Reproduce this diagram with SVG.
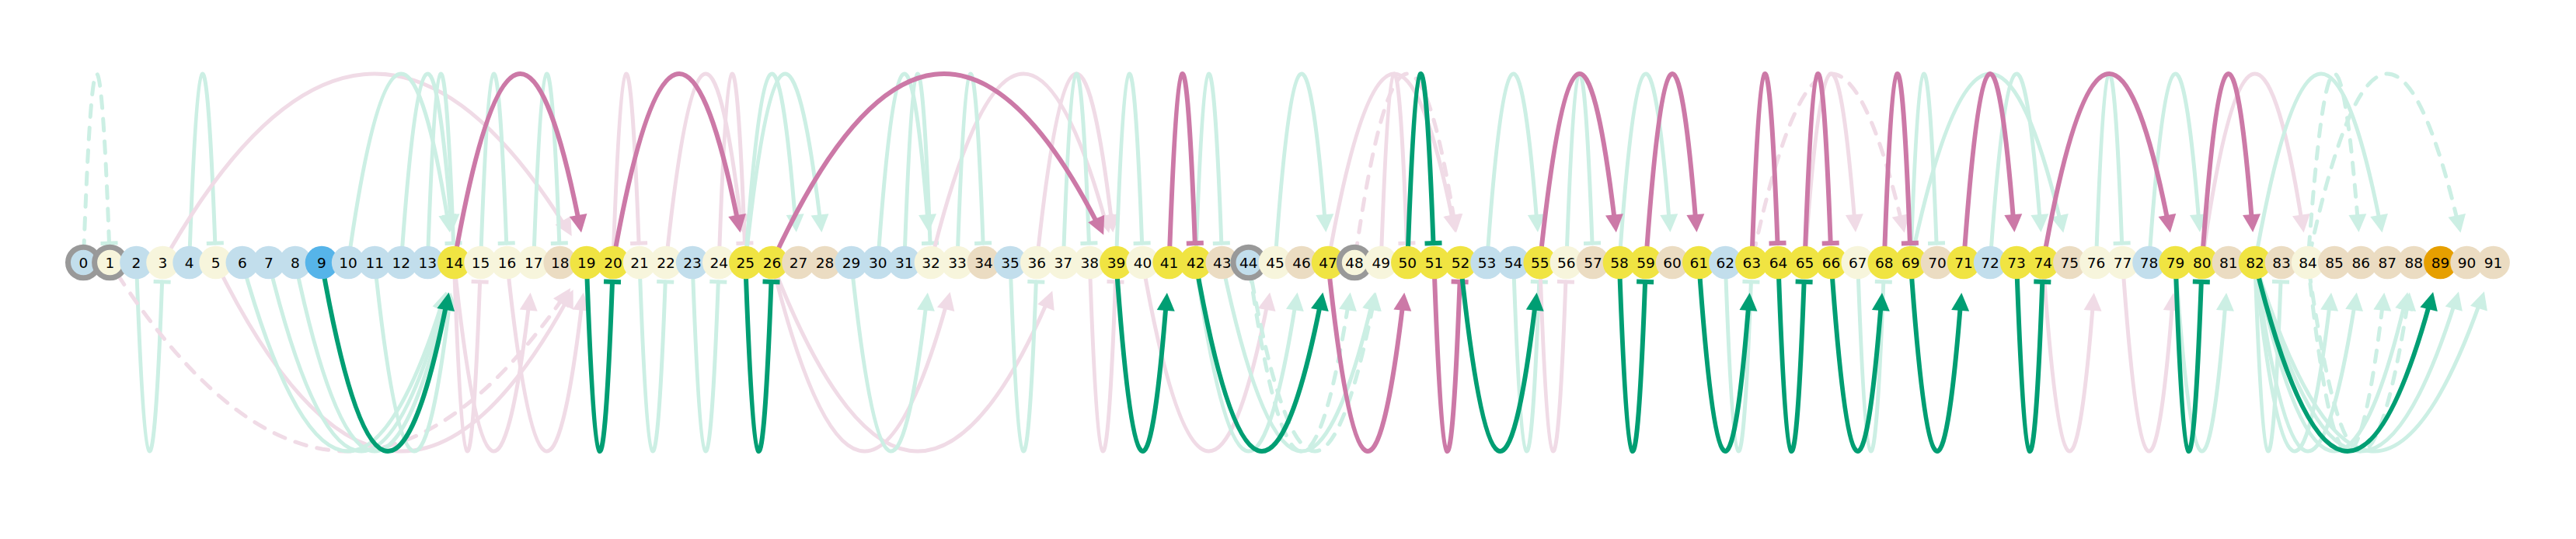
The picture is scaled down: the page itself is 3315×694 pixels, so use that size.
<svg xmlns="http://www.w3.org/2000/svg" width="3315" height="694" viewBox="0 0 3315 694">
<style>
.e{fill:none;stroke-linecap:round}
.lg{stroke:#ccefe4;stroke-width:5}
.lp{stroke:#f0dbe6;stroke-width:5}
.dg{stroke:#009e73;stroke-width:6}
.dp{stroke:#cc79a7;stroke-width:6}
.a{stroke-dasharray:0 56 4000}
.b{stroke-dasharray:0 25 4000}
.da{stroke-dasharray:0 56 15 14 15 14 15 14 15 14 15 14 15 14 15 14 15 14 15 14 15 14 15 14 15 14 15 14 15 14 15 14 15 14 15 14 15 14 15 14 15 14 15 14 15 14 15 14 15 14 15 14 15 14 15 14 15 14 15 14 15 14 15 14 15 14 15 14 15 14 15 14 15 14 15 14 15 14 15 14 15 14}
.db{stroke-dasharray:0 25 15 14 15 14 15 14 15 14 15 14 15 14 15 14 15 14 15 14 15 14 15 14 15 14 15 14 15 14 15 14 15 14 15 14 15 14 15 14 15 14 15 14 15 14 15 14 15 14 15 14 15 14 15 14 15 14 15 14 15 14 15 14 15 14 15 14 15 14 15 14 15 14 15 14 15 14 15 14 15 14}
.lg.a,.lg.da{marker-start:url(#alg)}
.lg.b,.lg.db{marker-start:url(#blg)}
.lp.a,.lp.da{marker-start:url(#alp)}
.lp.b,.lp.db{marker-start:url(#blp)}
.dg.a{marker-start:url(#adg)}
.dg.b{marker-start:url(#bdg)}
.dp.a{marker-start:url(#adp)}
.dp.b{marker-start:url(#bdp)}
.cb{fill:#c2deec}.cc{fill:#f7f5dc}.ct{fill:#ebdcc2}.cy{fill:#f0e442}.cB{fill:#56b4e9}.co{fill:#e69f00}
.r{stroke:#999999;stroke-width:7}
.t{font-family:"DejaVu Sans",sans-serif;font-size:18.5px;text-anchor:middle;fill:#000000}
</style>
<defs>
<marker id="alg" markerUnits="userSpaceOnUse" orient="auto" overflow="visible" markerWidth="1" markerHeight="1"><path d="M39 0L62 -11.5L62 11.5Z" fill="#ccefe4"/></marker>
<marker id="alp" markerUnits="userSpaceOnUse" orient="auto" overflow="visible" markerWidth="1" markerHeight="1"><path d="M39 0L62 -11.5L62 11.5Z" fill="#f0dbe6"/></marker>
<marker id="adg" markerUnits="userSpaceOnUse" orient="auto" overflow="visible" markerWidth="1" markerHeight="1"><path d="M39 0L62 -11.5L62 11.5Z" fill="#009e73"/></marker>
<marker id="adp" markerUnits="userSpaceOnUse" orient="auto" overflow="visible" markerWidth="1" markerHeight="1"><path d="M39 0L62 -11.5L62 11.5Z" fill="#cc79a7"/></marker>
<marker id="blg" markerUnits="userSpaceOnUse" orient="auto" overflow="visible" markerWidth="1" markerHeight="1"><rect x="22.5" y="-11" width="5" height="22" fill="#ccefe4"/></marker>
<marker id="blp" markerUnits="userSpaceOnUse" orient="auto" overflow="visible" markerWidth="1" markerHeight="1"><rect x="22.5" y="-11" width="5" height="22" fill="#f0dbe6"/></marker>
<marker id="bdg" markerUnits="userSpaceOnUse" orient="auto" overflow="visible" markerWidth="1" markerHeight="1"><rect x="22" y="-11" width="6" height="22" fill="#009e73"/></marker>
<marker id="bdp" markerUnits="userSpaceOnUse" orient="auto" overflow="visible" markerWidth="1" markerHeight="1"><rect x="22" y="-11" width="6" height="22" fill="#cc79a7"/></marker>
</defs>
<rect width="3315" height="694" fill="#ffffff"/>
<g id="edges">
<path class="e lg db" d="M141.4 338Q124.35 -148 107.3 338"/>
<path class="e lg b" d="M277.7 338Q260.65 -148 243.6 338"/>
<path class="e lp a" d="M754.8 338Q482.15 -148 209.5 338"/>
<path class="e lg a" d="M584.4 338Q516.25 -148 448.1 338"/>
<path class="e lg a" d="M584.4 338Q550.35 -148 516.3 338"/>
<path class="e lg b" d="M584.4 338Q567.35 -148 550.3 338"/>
<path class="e lg b" d="M652.6 338Q635.55 -148 618.5 338"/>
<path class="e lg b" d="M720.7 338Q703.7 -148 686.7 338"/>
<path class="e lp b" d="M823 338Q805.95 -148 788.9 338"/>
<path class="e lp a" d="M959.3 338Q908.2 -148 857.1 338"/>
<path class="e lp b" d="M959.3 338Q942.25 -148 925.2 338"/>
<path class="e lg a" d="M1027.5 338Q993.4 -148 959.3 338"/>
<path class="e lg a" d="M1061.5 338Q1010.4 -148 959.3 338"/>
<path class="e lg a" d="M1197.9 338Q1163.8 -148 1129.7 338"/>
<path class="e lg b" d="M1197.9 338Q1180.85 -148 1163.8 338"/>
<path class="e lp a" d="M1436.4 338Q1317.15 -148 1197.9 338"/>
<path class="e lg b" d="M1266 338Q1248.95 -148 1231.9 338"/>
<path class="e lp a" d="M1436.4 338Q1385.3 -148 1334.2 338"/>
<path class="e lg b" d="M1402.3 338Q1385.3 -148 1368.3 338"/>
<path class="e lg b" d="M1470.5 338Q1453.45 -148 1436.4 338"/>
<path class="e lg b" d="M1572.7 338Q1555.7 -148 1538.7 338"/>
<path class="e lg a" d="M1709.1 338Q1675 -148 1640.9 338"/>
<path class="e lp a" d="M1879.5 338Q1794.3 -148 1709.1 338"/>
<path class="e lp da" d="M1879.5 338Q1811.3 -148 1743.1 338"/>
<path class="e lp b" d="M1811.3 338Q1794.25 -148 1777.2 338"/>
<path class="e lg a" d="M1981.7 338Q1947.6 -148 1913.5 338"/>
<path class="e lg b" d="M2049.9 338Q2032.85 -148 2015.8 338"/>
<path class="e lg a" d="M2152.1 338Q2118 -148 2083.9 338"/>
<path class="e lp da" d="M2458.8 338Q2356.55 -148 2254.3 338"/>
<path class="e lp a" d="M2390.7 338Q2356.6 -148 2322.5 338"/>
<path class="e lg b" d="M2492.9 338Q2475.85 -148 2458.8 338"/>
<path class="e lg a" d="M2663.3 338Q2561.05 -148 2458.8 338"/>
<path class="e lg a" d="M2629.2 338Q2595.15 -148 2561.1 338"/>
<path class="e lg b" d="M2731.5 338Q2714.45 -148 2697.4 338"/>
<path class="e lg a" d="M2833.7 338Q2799.6 -148 2765.5 338"/>
<path class="e lp a" d="M2970 338Q2901.85 -148 2833.7 338"/>
<path class="e lg a" d="M3072.3 338Q2987.1 -148 2901.9 338"/>
<path class="e lg da" d="M3038.2 338Q3004.1 -148 2970 338"/>
<path class="e lg da" d="M3174.5 338Q3072.25 -148 2970 338"/>
<path class="e lg b" d="M209.5 338Q192.5 824 175.5 338"/>
<path class="e lp da" d="M754.8 338Q448.1 824 141.4 338"/>
<path class="e lp a" d="M754.8 338Q516.25 824 277.7 338"/>
<path class="e lg a" d="M584.4 338Q448.1 824 311.8 338"/>
<path class="e lg a" d="M584.4 338Q465.15 824 345.9 338"/>
<path class="e lg a" d="M584.4 338Q482.15 824 379.9 338"/>
<path class="e lg a" d="M584.4 338Q533.3 824 482.2 338"/>
<path class="e lp b" d="M618.5 338Q601.45 824 584.4 338"/>
<path class="e lp a" d="M686.7 338Q635.55 824 584.4 338"/>
<path class="e lp a" d="M754.8 338Q703.7 824 652.6 338"/>
<path class="e lg b" d="M857.1 338Q840.05 824 823 338"/>
<path class="e lg b" d="M925.2 338Q908.15 824 891.1 338"/>
<path class="e lp a" d="M1231.9 338Q1112.65 824 993.4 338"/>
<path class="e lp a" d="M1368.3 338Q1180.85 824 993.4 338"/>
<path class="e lg a" d="M1197.9 338Q1146.75 824 1095.6 338"/>
<path class="e lg b" d="M1334.2 338Q1317.15 824 1300.1 338"/>
<path class="e lp b" d="M1436.4 338Q1419.35 824 1402.3 338"/>
<path class="e lp a" d="M1640.9 338Q1555.7 824 1470.5 338"/>
<path class="e lg a" d="M1675 338Q1606.85 824 1538.7 338"/>
<path class="e lg a" d="M1777.2 338Q1674.95 824 1572.7 338"/>
<path class="e lg da" d="M1743.1 338Q1674.95 824 1606.8 338"/>
<path class="e lg da" d="M1777.2 338Q1692 824 1606.8 338"/>
<path class="e lg b" d="M1981.7 338Q1964.65 824 1947.6 338"/>
<path class="e lp b" d="M2015.8 338Q1998.75 824 1981.7 338"/>
<path class="e lg b" d="M2254.3 338Q2237.3 824 2220.3 338"/>
<path class="e lg b" d="M2424.7 338Q2407.7 824 2390.7 338"/>
<path class="e lp a" d="M2697.4 338Q2663.3 824 2629.2 338"/>
<path class="e lp a" d="M2799.6 338Q2765.55 824 2731.5 338"/>
<path class="e lg a" d="M2867.8 338Q2833.7 824 2799.6 338"/>
<path class="e lg b" d="M2935.9 338Q2918.9 824 2901.9 338"/>
<path class="e lg a" d="M3004.1 338Q2953 824 2901.9 338"/>
<path class="e lg a" d="M3038.2 338Q2970.05 824 2901.9 338"/>
<path class="e lg a" d="M3106.3 338Q3004.1 824 2901.9 338"/>
<path class="e lg a" d="M3174.5 338Q3038.2 824 2901.9 338"/>
<path class="e lg a" d="M3208.6 338Q3055.25 824 2901.9 338"/>
<path class="e lg da" d="M3072.3 338Q3021.15 824 2970 338"/>
<path class="e lg da" d="M3106.3 338Q3038.15 824 2970 338"/>
<path class="e dp a" d="M754.8 338Q669.6 -148 584.4 338"/>
<path class="e dp a" d="M959.3 338Q874.1 -148 788.9 338"/>
<path class="e dp a" d="M1436.4 338Q1214.9 -148 993.4 338"/>
<path class="e dp b" d="M1538.7 338Q1521.65 -148 1504.6 338"/>
<path class="e dg b" d="M1845.4 338Q1828.35 -148 1811.3 338"/>
<path class="e dp a" d="M2083.9 338Q2032.8 -148 1981.7 338"/>
<path class="e dp a" d="M2186.2 338Q2152.1 -148 2118 338"/>
<path class="e dp b" d="M2288.4 338Q2271.35 -148 2254.3 338"/>
<path class="e dp b" d="M2356.6 338Q2339.55 -148 2322.5 338"/>
<path class="e dp b" d="M2458.8 338Q2441.75 -148 2424.7 338"/>
<path class="e dp a" d="M2595.1 338Q2561.05 -148 2527 338"/>
<path class="e dp a" d="M2799.6 338Q2714.4 -148 2629.2 338"/>
<path class="e dp a" d="M2901.9 338Q2867.8 -148 2833.7 338"/>
<path class="e dg a" d="M584.4 338Q499.2 824 414 338"/>
<path class="e dg b" d="M788.9 338Q771.85 824 754.8 338"/>
<path class="e dg b" d="M993.4 338Q976.35 824 959.3 338"/>
<path class="e dg a" d="M1504.6 338Q1470.5 824 1436.4 338"/>
<path class="e dg a" d="M1709.1 338Q1623.9 824 1538.7 338"/>
<path class="e dp a" d="M1811.3 338Q1760.2 824 1709.1 338"/>
<path class="e dp b" d="M1879.5 338Q1862.45 824 1845.4 338"/>
<path class="e dg a" d="M1981.7 338Q1930.6 824 1879.5 338"/>
<path class="e dg b" d="M2118 338Q2100.95 824 2083.9 338"/>
<path class="e dg a" d="M2254.3 338Q2220.25 824 2186.2 338"/>
<path class="e dg b" d="M2322.5 338Q2305.45 824 2288.4 338"/>
<path class="e dg a" d="M2424.7 338Q2390.65 824 2356.6 338"/>
<path class="e dg a" d="M2527 338Q2492.9 824 2458.8 338"/>
<path class="e dg b" d="M2629.2 338Q2612.15 824 2595.1 338"/>
<path class="e dg b" d="M2833.7 338Q2816.65 824 2799.6 338"/>
<path class="e dg a" d="M3140.4 338Q3021.15 824 2901.9 338"/>
</g>
<g id="n0"><circle class="cb r" cx="107.3" cy="338" r="19.8"/><text class="t" x="107.3" y="345">0</text></g>
<g id="n1"><circle class="cc r" cx="141.4" cy="338" r="19.8"/><text class="t" x="141.4" y="345">1</text></g>
<g id="n2"><circle class="cb" cx="175.5" cy="338" r="21.3"/><text class="t" x="175.5" y="345">2</text></g>
<g id="n3"><circle class="cc" cx="209.5" cy="338" r="21.3"/><text class="t" x="209.5" y="345">3</text></g>
<g id="n4"><circle class="cb" cx="243.6" cy="338" r="21.3"/><text class="t" x="243.6" y="345">4</text></g>
<g id="n5"><circle class="cc" cx="277.7" cy="338" r="21.3"/><text class="t" x="277.7" y="345">5</text></g>
<g id="n6"><circle class="cb" cx="311.8" cy="338" r="21.3"/><text class="t" x="311.8" y="345">6</text></g>
<g id="n7"><circle class="cb" cx="345.9" cy="338" r="21.3"/><text class="t" x="345.9" y="345">7</text></g>
<g id="n8"><circle class="cb" cx="379.9" cy="338" r="21.3"/><text class="t" x="379.9" y="345">8</text></g>
<g id="n9"><circle class="cB" cx="414" cy="338" r="21.3"/><text class="t" x="414" y="345">9</text></g>
<g id="n10"><circle class="cb" cx="448.1" cy="338" r="21.3"/><text class="t" x="448.1" y="345">10</text></g>
<g id="n11"><circle class="cb" cx="482.2" cy="338" r="21.3"/><text class="t" x="482.2" y="345">11</text></g>
<g id="n12"><circle class="cb" cx="516.3" cy="338" r="21.3"/><text class="t" x="516.3" y="345">12</text></g>
<g id="n13"><circle class="cb" cx="550.3" cy="338" r="21.3"/><text class="t" x="550.3" y="345">13</text></g>
<g id="n14"><circle class="cy" cx="584.4" cy="338" r="21.3"/><text class="t" x="584.4" y="345">14</text></g>
<g id="n15"><circle class="cc" cx="618.5" cy="338" r="21.3"/><text class="t" x="618.5" y="345">15</text></g>
<g id="n16"><circle class="cc" cx="652.6" cy="338" r="21.3"/><text class="t" x="652.6" y="345">16</text></g>
<g id="n17"><circle class="cc" cx="686.7" cy="338" r="21.3"/><text class="t" x="686.7" y="345">17</text></g>
<g id="n18"><circle class="ct" cx="720.7" cy="338" r="21.3"/><text class="t" x="720.7" y="345">18</text></g>
<g id="n19"><circle class="cy" cx="754.8" cy="338" r="21.3"/><text class="t" x="754.8" y="345">19</text></g>
<g id="n20"><circle class="cy" cx="788.9" cy="338" r="21.3"/><text class="t" x="788.9" y="345">20</text></g>
<g id="n21"><circle class="cc" cx="823" cy="338" r="21.3"/><text class="t" x="823" y="345">21</text></g>
<g id="n22"><circle class="cc" cx="857.1" cy="338" r="21.3"/><text class="t" x="857.1" y="345">22</text></g>
<g id="n23"><circle class="cb" cx="891.1" cy="338" r="21.3"/><text class="t" x="891.1" y="345">23</text></g>
<g id="n24"><circle class="cc" cx="925.2" cy="338" r="21.3"/><text class="t" x="925.2" y="345">24</text></g>
<g id="n25"><circle class="cy" cx="959.3" cy="338" r="21.3"/><text class="t" x="959.3" y="345">25</text></g>
<g id="n26"><circle class="cy" cx="993.4" cy="338" r="21.3"/><text class="t" x="993.4" y="345">26</text></g>
<g id="n27"><circle class="ct" cx="1027.5" cy="338" r="21.3"/><text class="t" x="1027.5" y="345">27</text></g>
<g id="n28"><circle class="ct" cx="1061.5" cy="338" r="21.3"/><text class="t" x="1061.5" y="345">28</text></g>
<g id="n29"><circle class="cb" cx="1095.6" cy="338" r="21.3"/><text class="t" x="1095.6" y="345">29</text></g>
<g id="n30"><circle class="cb" cx="1129.7" cy="338" r="21.3"/><text class="t" x="1129.7" y="345">30</text></g>
<g id="n31"><circle class="cb" cx="1163.8" cy="338" r="21.3"/><text class="t" x="1163.8" y="345">31</text></g>
<g id="n32"><circle class="cc" cx="1197.9" cy="338" r="21.3"/><text class="t" x="1197.9" y="345">32</text></g>
<g id="n33"><circle class="cc" cx="1231.9" cy="338" r="21.3"/><text class="t" x="1231.9" y="345">33</text></g>
<g id="n34"><circle class="ct" cx="1266" cy="338" r="21.3"/><text class="t" x="1266" y="345">34</text></g>
<g id="n35"><circle class="cb" cx="1300.1" cy="338" r="21.3"/><text class="t" x="1300.1" y="345">35</text></g>
<g id="n36"><circle class="cc" cx="1334.2" cy="338" r="21.3"/><text class="t" x="1334.2" y="345">36</text></g>
<g id="n37"><circle class="cc" cx="1368.3" cy="338" r="21.3"/><text class="t" x="1368.3" y="345">37</text></g>
<g id="n38"><circle class="cc" cx="1402.3" cy="338" r="21.3"/><text class="t" x="1402.3" y="345">38</text></g>
<g id="n39"><circle class="cy" cx="1436.4" cy="338" r="21.3"/><text class="t" x="1436.4" y="345">39</text></g>
<g id="n40"><circle class="cc" cx="1470.5" cy="338" r="21.3"/><text class="t" x="1470.5" y="345">40</text></g>
<g id="n41"><circle class="cy" cx="1504.6" cy="338" r="21.3"/><text class="t" x="1504.6" y="345">41</text></g>
<g id="n42"><circle class="cy" cx="1538.7" cy="338" r="21.3"/><text class="t" x="1538.7" y="345">42</text></g>
<g id="n43"><circle class="ct" cx="1572.7" cy="338" r="21.3"/><text class="t" x="1572.7" y="345">43</text></g>
<g id="n44"><circle class="cb r" cx="1606.8" cy="338" r="19.8"/><text class="t" x="1606.8" y="345">44</text></g>
<g id="n45"><circle class="cc" cx="1640.9" cy="338" r="21.3"/><text class="t" x="1640.9" y="345">45</text></g>
<g id="n46"><circle class="ct" cx="1675" cy="338" r="21.3"/><text class="t" x="1675" y="345">46</text></g>
<g id="n47"><circle class="cy" cx="1709.1" cy="338" r="21.3"/><text class="t" x="1709.1" y="345">47</text></g>
<g id="n48"><circle class="cc r" cx="1743.1" cy="338" r="19.8"/><text class="t" x="1743.1" y="345">48</text></g>
<g id="n49"><circle class="cc" cx="1777.2" cy="338" r="21.3"/><text class="t" x="1777.2" y="345">49</text></g>
<g id="n50"><circle class="cy" cx="1811.3" cy="338" r="21.3"/><text class="t" x="1811.3" y="345">50</text></g>
<g id="n51"><circle class="cy" cx="1845.4" cy="338" r="21.3"/><text class="t" x="1845.4" y="345">51</text></g>
<g id="n52"><circle class="cy" cx="1879.5" cy="338" r="21.3"/><text class="t" x="1879.5" y="345">52</text></g>
<g id="n53"><circle class="cb" cx="1913.5" cy="338" r="21.3"/><text class="t" x="1913.5" y="345">53</text></g>
<g id="n54"><circle class="cb" cx="1947.6" cy="338" r="21.3"/><text class="t" x="1947.6" y="345">54</text></g>
<g id="n55"><circle class="cy" cx="1981.7" cy="338" r="21.3"/><text class="t" x="1981.7" y="345">55</text></g>
<g id="n56"><circle class="cc" cx="2015.8" cy="338" r="21.3"/><text class="t" x="2015.8" y="345">56</text></g>
<g id="n57"><circle class="ct" cx="2049.9" cy="338" r="21.3"/><text class="t" x="2049.9" y="345">57</text></g>
<g id="n58"><circle class="cy" cx="2083.9" cy="338" r="21.3"/><text class="t" x="2083.9" y="345">58</text></g>
<g id="n59"><circle class="cy" cx="2118" cy="338" r="21.3"/><text class="t" x="2118" y="345">59</text></g>
<g id="n60"><circle class="ct" cx="2152.1" cy="338" r="21.3"/><text class="t" x="2152.1" y="345">60</text></g>
<g id="n61"><circle class="cy" cx="2186.2" cy="338" r="21.3"/><text class="t" x="2186.2" y="345">61</text></g>
<g id="n62"><circle class="cb" cx="2220.3" cy="338" r="21.3"/><text class="t" x="2220.3" y="345">62</text></g>
<g id="n63"><circle class="cy" cx="2254.3" cy="338" r="21.3"/><text class="t" x="2254.3" y="345">63</text></g>
<g id="n64"><circle class="cy" cx="2288.4" cy="338" r="21.3"/><text class="t" x="2288.4" y="345">64</text></g>
<g id="n65"><circle class="cy" cx="2322.5" cy="338" r="21.3"/><text class="t" x="2322.5" y="345">65</text></g>
<g id="n66"><circle class="cy" cx="2356.6" cy="338" r="21.3"/><text class="t" x="2356.6" y="345">66</text></g>
<g id="n67"><circle class="cc" cx="2390.7" cy="338" r="21.3"/><text class="t" x="2390.7" y="345">67</text></g>
<g id="n68"><circle class="cy" cx="2424.7" cy="338" r="21.3"/><text class="t" x="2424.7" y="345">68</text></g>
<g id="n69"><circle class="cy" cx="2458.8" cy="338" r="21.3"/><text class="t" x="2458.8" y="345">69</text></g>
<g id="n70"><circle class="ct" cx="2492.9" cy="338" r="21.3"/><text class="t" x="2492.9" y="345">70</text></g>
<g id="n71"><circle class="cy" cx="2527" cy="338" r="21.3"/><text class="t" x="2527" y="345">71</text></g>
<g id="n72"><circle class="cb" cx="2561.1" cy="338" r="21.3"/><text class="t" x="2561.1" y="345">72</text></g>
<g id="n73"><circle class="cy" cx="2595.1" cy="338" r="21.3"/><text class="t" x="2595.1" y="345">73</text></g>
<g id="n74"><circle class="cy" cx="2629.2" cy="338" r="21.3"/><text class="t" x="2629.2" y="345">74</text></g>
<g id="n75"><circle class="ct" cx="2663.3" cy="338" r="21.3"/><text class="t" x="2663.3" y="345">75</text></g>
<g id="n76"><circle class="cc" cx="2697.4" cy="338" r="21.3"/><text class="t" x="2697.4" y="345">76</text></g>
<g id="n77"><circle class="cc" cx="2731.5" cy="338" r="21.3"/><text class="t" x="2731.5" y="345">77</text></g>
<g id="n78"><circle class="cb" cx="2765.5" cy="338" r="21.3"/><text class="t" x="2765.5" y="345">78</text></g>
<g id="n79"><circle class="cy" cx="2799.6" cy="338" r="21.3"/><text class="t" x="2799.6" y="345">79</text></g>
<g id="n80"><circle class="cy" cx="2833.7" cy="338" r="21.3"/><text class="t" x="2833.7" y="345">80</text></g>
<g id="n81"><circle class="ct" cx="2867.8" cy="338" r="21.3"/><text class="t" x="2867.8" y="345">81</text></g>
<g id="n82"><circle class="cy" cx="2901.9" cy="338" r="21.3"/><text class="t" x="2901.9" y="345">82</text></g>
<g id="n83"><circle class="ct" cx="2935.9" cy="338" r="21.3"/><text class="t" x="2935.9" y="345">83</text></g>
<g id="n84"><circle class="cc" cx="2970" cy="338" r="21.3"/><text class="t" x="2970" y="345">84</text></g>
<g id="n85"><circle class="ct" cx="3004.1" cy="338" r="21.3"/><text class="t" x="3004.1" y="345">85</text></g>
<g id="n86"><circle class="ct" cx="3038.2" cy="338" r="21.3"/><text class="t" x="3038.2" y="345">86</text></g>
<g id="n87"><circle class="ct" cx="3072.3" cy="338" r="21.3"/><text class="t" x="3072.3" y="345">87</text></g>
<g id="n88"><circle class="ct" cx="3106.3" cy="338" r="21.3"/><text class="t" x="3106.3" y="345">88</text></g>
<g id="n89"><circle class="co" cx="3140.4" cy="338" r="21.3"/><text class="t" x="3140.4" y="345">89</text></g>
<g id="n90"><circle class="ct" cx="3174.5" cy="338" r="21.3"/><text class="t" x="3174.5" y="345">90</text></g>
<g id="n91"><circle class="ct" cx="3208.6" cy="338" r="21.3"/><text class="t" x="3208.6" y="345">91</text></g>
</svg>
